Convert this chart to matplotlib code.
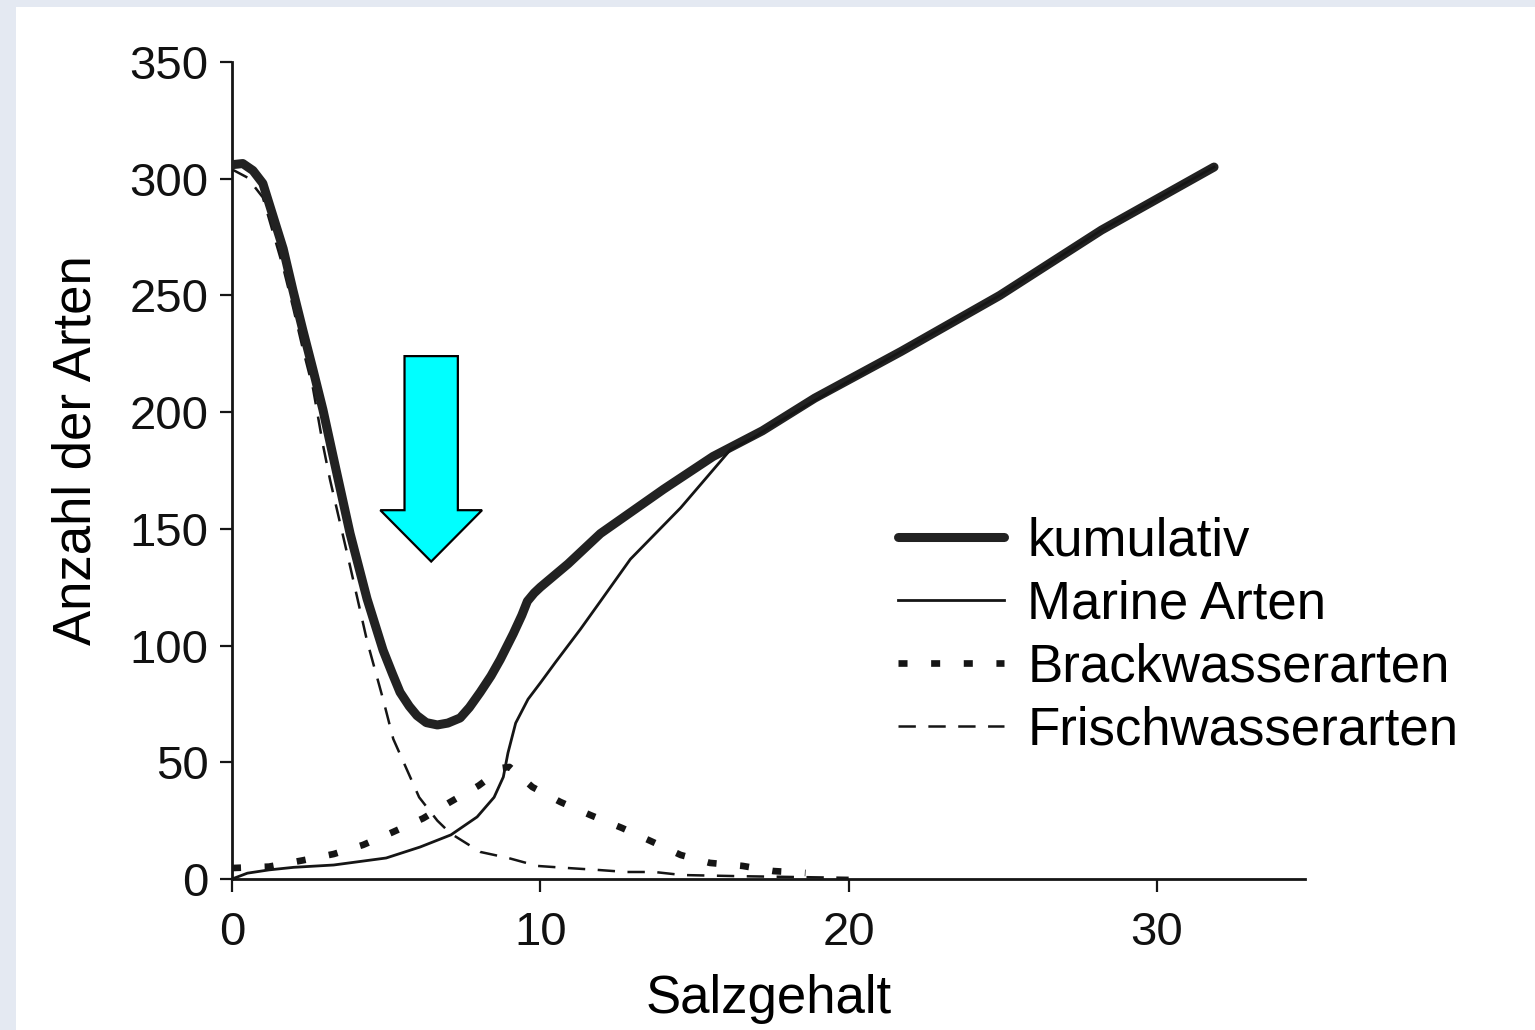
import matplotlib
matplotlib.use("Agg")
import matplotlib.pyplot as plt
from matplotlib.patches import Polygon, Rectangle

plt.rcParams['font.family'] = ['Liberation Sans', 'DejaVu Sans']
plt.rcParams['lines.scale_dashes'] = False

# Werte (Salzgehalt -> Anzahl der Arten)
salz_kum = [0, 0.35, 0.68, 1.0, 1.33, 1.66, 1.98, 2.3, 2.63, 2.95, 3.28, 3.83, 4.38, 4.9,
            5.2, 5.45, 5.75, 6.0, 6.3, 6.66, 7.0, 7.4, 7.7, 8.05, 8.4, 8.7, 9.12, 9.4, 9.58,
            9.8, 10.0, 10.9, 11.95, 14.0, 15.6, 17.2, 18.9, 21.7, 24.9, 28.2, 31.85]
kumulativ = [306, 306.5, 303.5, 298, 284, 270, 252, 235, 218, 201, 181, 148, 120, 98,
             88, 80, 74, 70, 67, 66, 66.8, 69, 73.5, 80, 87, 94, 105, 113, 119,
             122.5, 125, 135, 148, 167, 181, 192, 206, 226, 250, 278, 305]

salz_mar = [0, 0.5, 1.2, 2.0, 3.3, 5.0, 6.1, 7.1, 7.95, 8.5, 8.8, 8.95, 9.2, 9.6, 10.0,
            10.5, 11.3, 11.95, 12.92, 14.55, 16.17, 16.9, 17.5, 18.9, 21.7, 24.9, 28.2, 31.85]
marine = [0, 2.5, 3.9, 5, 6, 9, 13.7, 18.9, 26.6, 35, 43.7, 54, 66.8, 77, 84,
          93, 107, 119, 137, 159, 184, 189, 194, 205, 226, 250, 278, 305]

salz_bra = [0, 1.2, 2.3, 3.3, 4.25, 5.2, 6.2, 7.08, 8.0, 8.77, 9.0, 9.74, 10.65, 11.62,
            12.66, 13.64, 14.55, 15.5, 16.56, 17.56, 18.6]
brack = [4.7, 5.3, 8, 10.7, 14.6, 20, 26, 33, 40, 47.6, 48, 39.4, 33, 27.4,
         21.8, 15.9, 10.3, 6.9, 5.6, 3.4, 2.6]

salz_fri = [0, 0.5, 1.0, 1.33, 1.66, 1.98, 2.3, 2.63, 2.95, 3.18, 3.83, 4.38, 4.9, 5.23,
            6.07, 6.66, 7.08, 8.05, 8.96, 9.9, 10.9, 11.85, 12.8, 13.7, 14.6, 16.5, 18.5, 20.0]
frisch = [304, 300.5, 292, 277, 262, 245, 227, 210, 186, 171, 134, 102, 77, 60,
          35, 25, 19.6, 11.6, 9, 5.6, 4.7, 3.9, 3, 3, 1.7, 1.2, 0.8, 0.5]

labels = ["kumulativ", "Marine Arten", "Brackwasserarten", "Frischwasserarten"]
y_ticks = [0, 50, 100, 150, 200, 250, 300, 350]
x_ticks = [0, 10, 20, 30]

W, H = 1535, 1030
fig = plt.figure(figsize=(W / 100, H / 100), dpi=100)
fig.patch.set_facecolor('#e4e9f2')
fig.patches.append(Rectangle((16 / W, 0), 1 - 16 / W, 1 - 7 / H, transform=fig.transFigure,
                             facecolor='white', edgecolor='none', zorder=-10))

ax = fig.add_axes([232 / W, 1 - 879 / H, (1305 - 232) / W, (879 - 62) / H])
ax.set_facecolor('none')

ink = '#151515'
ax.plot(salz_kum, kumulativ, color='#222222', lw=6.5, solid_capstyle='round',
        solid_joinstyle='round', label=labels[0], zorder=4)
ax.plot(salz_mar, marine, color=ink, lw=2.0, solid_joinstyle='round', label=labels[1], zorder=5)
# Strichmuster in Punkt (nicht mit der Linienbreite skaliert)
ax.plot(salz_bra, brack, color=ink, lw=4.8, dashes=(6.5, 17), label=labels[2], zorder=3)
ax.plot(salz_fri, frisch, color=ink, lw=1.8, dashes=(12.5, 9), label=labels[3], zorder=3)

ax.set_xlim(0, 34.8)
ax.set_ylim(0, 350)
ax.set_xticks(x_ticks)
ax.set_yticks(y_ticks)
for s in ['top', 'right']:
    ax.spines[s].set_visible(False)
for s in ['left', 'bottom']:
    ax.spines[s].set_linewidth(2.0)
    ax.spines[s].set_color(ink)
ax.tick_params(axis='both', direction='out', length=9, width=1.6, color=ink,
               labelsize=34, labelcolor='#111111')
ax.tick_params(axis='y', pad=8)
ax.tick_params(axis='x', pad=14)

ax.set_xlabel("Salzgehalt", fontsize=38, labelpad=14)
ax.set_ylabel("Anzahl der Arten", fontsize=38)
ax.yaxis.set_label_coords(-0.122, 0.525)

# tuerkiser Pfeil ueber dem Minimum
tip_x, tip_y = 6.46, 136
head_y, top_y = 158, 224
head_w, shaft_w = 1.65, 0.865
arrow = Polygon([(tip_x - shaft_w, top_y), (tip_x + shaft_w, top_y), (tip_x + shaft_w, head_y),
                 (tip_x + head_w, head_y), (tip_x, tip_y), (tip_x - head_w, head_y),
                 (tip_x - shaft_w, head_y)], closed=True, facecolor='#00ffff',
                edgecolor='black', lw=1.6, zorder=6)
ax.add_patch(arrow)

ax.legend(loc='upper left', bbox_to_anchor=(898 / W, 1 - 516 / H), bbox_transform=fig.transFigure,
          frameon=False, fontsize=38, handlelength=2.0, handletextpad=0.45,
          labelspacing=0.25, borderpad=0, borderaxespad=0)

fig.savefig("out.png", dpi=100, facecolor=fig.get_facecolor())
